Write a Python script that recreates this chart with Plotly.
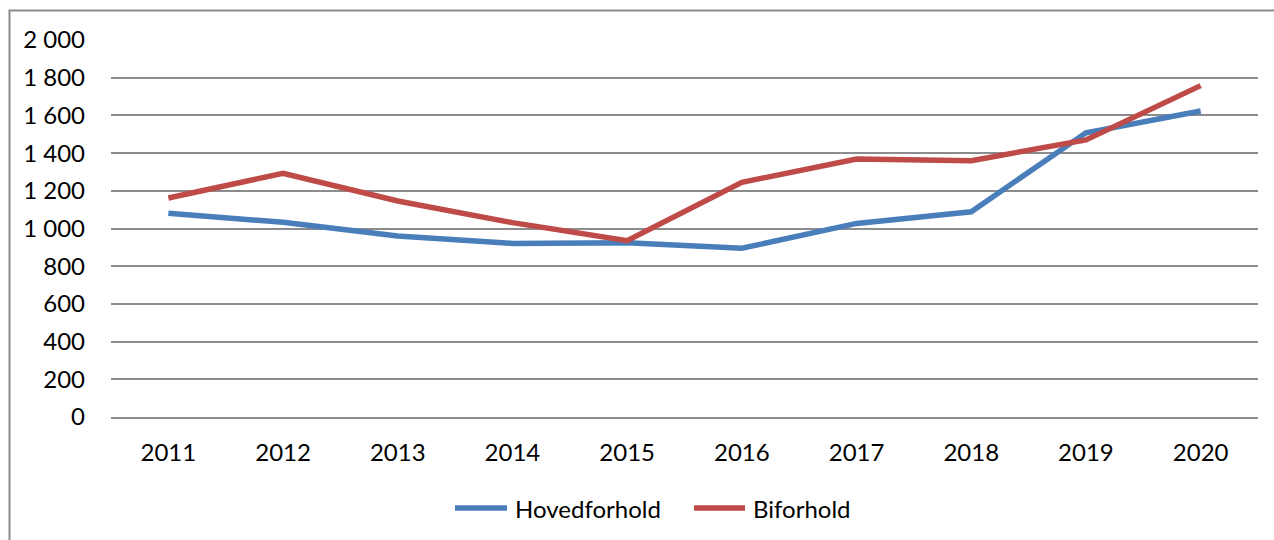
import plotly.graph_objects as go

years = ["2011", "2012", "2013", "2014", "2015", "2016", "2017", "2018", "2019", "2020"]
hovedforhold = [1081, 1033, 960, 921, 925, 895, 1027, 1089, 1508, 1623]
biforhold = [1162, 1293, 1146, 1031, 935, 1245, 1369, 1360, 1470, 1758]
y_ticks = [0, 200, 400, 600, 800, 1000, 1200, 1400, 1600, 1800, 2000]
series_names = ["Hovedforhold", "Biforhold"]
series_colors = ["#4A7EBB", "#BE4B48"]

FONT = "Lato"
FS = 24
W, H = 1274, 540
# plot area in page pixels: x 111..1258, y 40..417
L, R, T, B = 111, W - 1258, 40, H - 417
pw, ph = W - L - R, H - T - B


def px(x):  # page pixel -> paper
    return (x - L) / pw


def py(y):
    return (T + ph - y) / ph


fig = go.Figure()
for name, vals, col in zip(series_names, [hovedforhold, biforhold], series_colors):
    fig.add_trace(go.Scatter(x=years, y=vals, name=name, mode="lines",
                             line=dict(color=col, width=5.5), showlegend=False))

# outer chart frame (left and top edges visible, rest outside the window)
fig.add_shape(type="rect", xref="paper", yref="paper",
              x0=px(9.5), x1=px(W + 20), y0=py(H + 20), y1=py(10.5),
              line=dict(color="#8c8c8c", width=2), fillcolor="rgba(0,0,0,0)", layer="below")

# legend drawn like the original (long line keys)
legend_line_x = [(455, 507), (694, 745)]
legend_text_x = [513, 751]
for name, col, (a, b), tx in zip(series_names, series_colors, legend_line_x, legend_text_x):
    fig.add_shape(type="line", xref="paper", yref="paper",
                  x0=px(a), x1=px(b), y0=py(508), y1=py(508),
                  line=dict(color=col, width=5.5))
    fig.add_annotation(xref="paper", yref="paper", x=px(tx), y=py(508),
                       xanchor="left", yanchor="middle", text=name, showarrow=False,
                       font=dict(family=FONT, size=FS, color="#000000"))

fig.update_layout(
    width=W, height=H,
    margin=dict(l=L, r=R, t=T, b=B, pad=0, autoexpand=False),
    paper_bgcolor="white", plot_bgcolor="white",
    separators=", ",
    font=dict(family=FONT, size=FS, color="#000000"),
    showlegend=False,
    xaxis=dict(type="category", range=[-0.5, 9.5], showgrid=False, zeroline=False,
               showline=True, linecolor="#8c8c8c", linewidth=2, automargin=False,
               ticks="", ticklabelstandoff=13,
               tickfont=dict(family=FONT, size=FS, color="#000000"), fixedrange=True),
    yaxis=dict(range=[0, 2000], tickvals=y_ticks, tickformat=",d", separatethousands=True,
               showgrid=True, gridcolor="#8c8c8c", gridwidth=2, zeroline=False,
               showline=False, ticks="", ticklabelstandoff=25, automargin=False,
               tickfont=dict(family=FONT, size=FS, color="#000000"), fixedrange=True),
)

fig.write_html("out.html", config={"displayModeBar": False},
               post_script="document.body.style.margin='0';document.body.style.overflow='hidden';")
